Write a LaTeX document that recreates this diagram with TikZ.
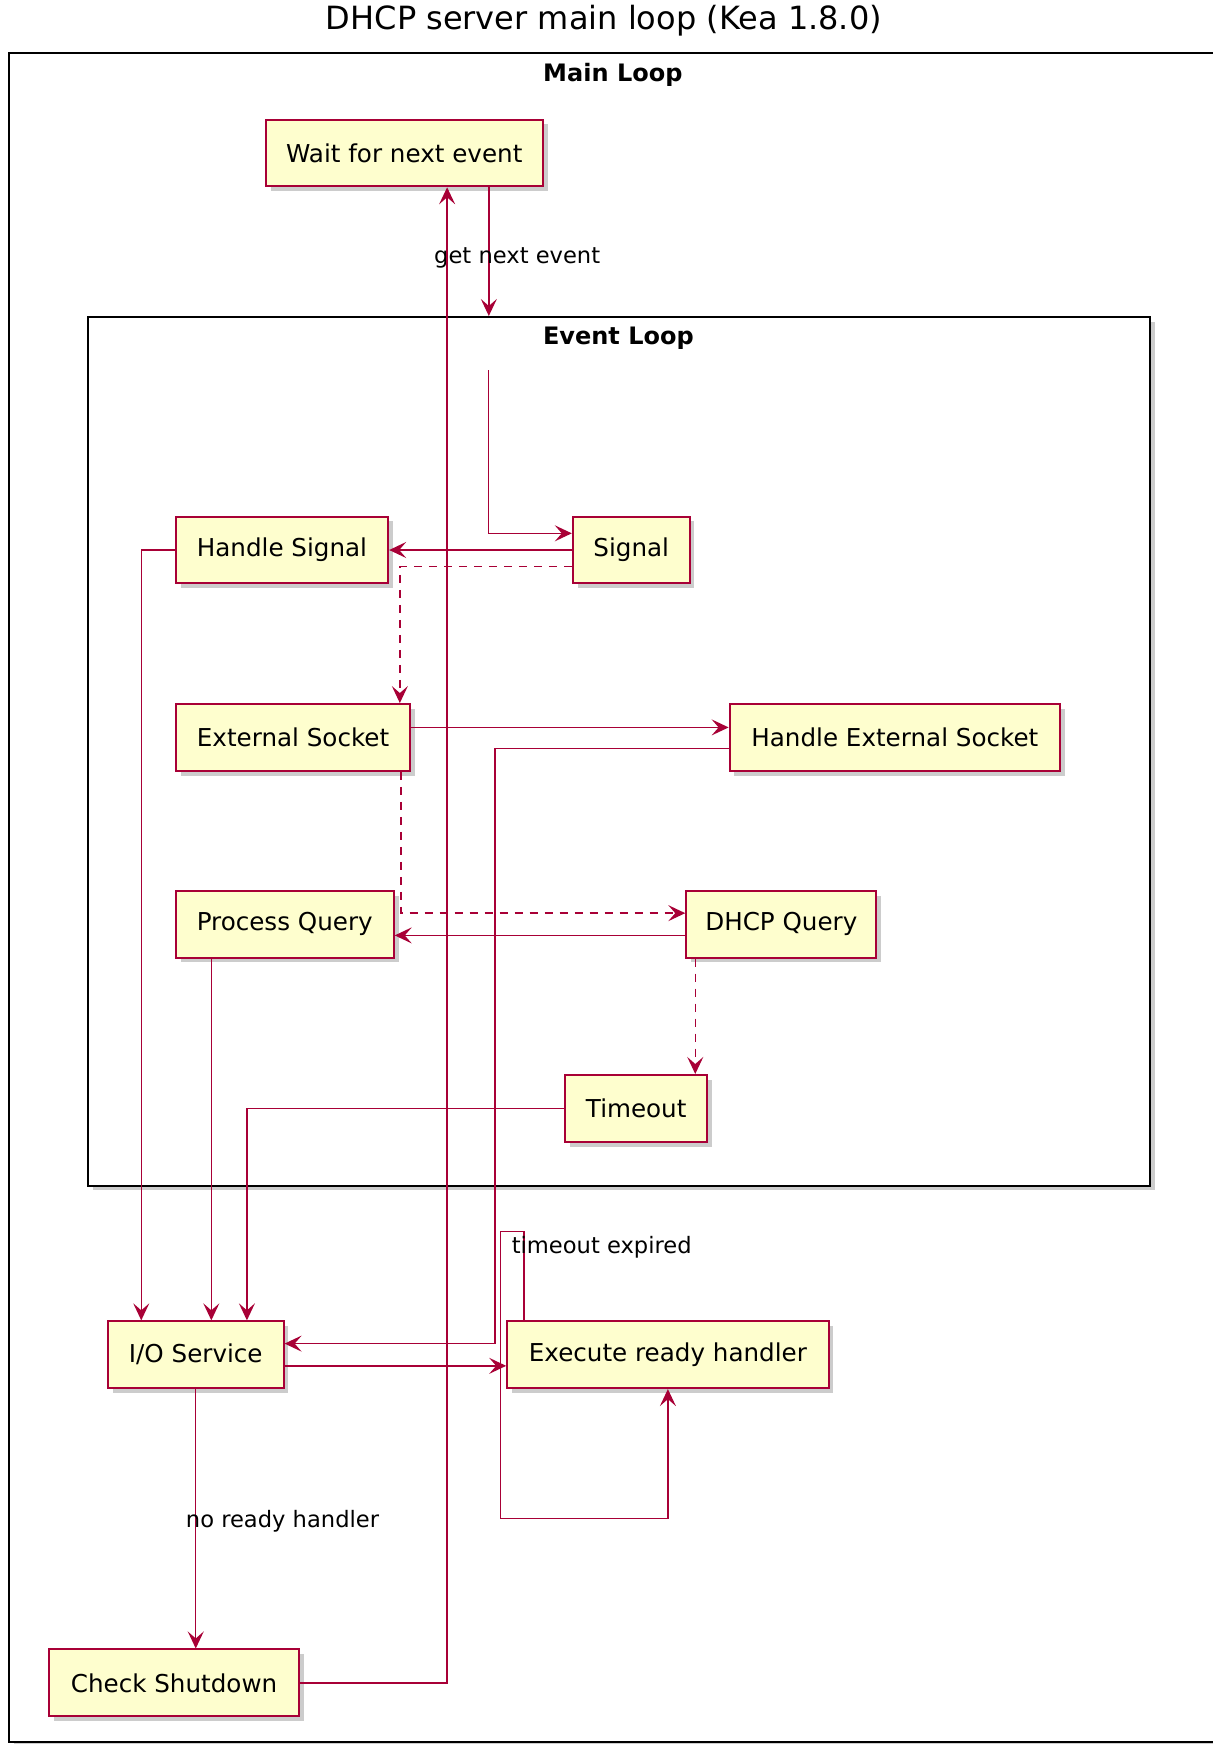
\documentclass[tikz,border=0pt]{standalone}
\usepackage{fontspec}
\setmainfont{DejaVu Sans}
\usepackage{xcolor}
\usetikzlibrary{arrows.meta,shadows}

\definecolor{umlred}{HTML}{A80036}
\definecolor{umlfill}{HTML}{FEFECE}
\newcommand{\upx}{0.556pt}

\tikzset{
  act/.style={draw=umlred, fill=umlfill, line width=1pt, minimum width=#1*\upx,
    minimum height=60*\upx, inner xsep=2pt, font=\fontsize{12.3}{14}\selectfont,
    drop shadow={shadow xshift=2.4pt, shadow yshift=-2.4pt, opacity=0.4}},
  frm/.style 2 args={draw=black, line width=1pt, fill=white, minimum width=#1*\upx,
    minimum height=#2*\upx, drop shadow={shadow xshift=2.4pt, shadow yshift=-2.4pt, opacity=0.4}},
  flow/.style={draw=umlred, line width=0.7pt, -{Stealth[length=8.5pt,width=8pt,inset=3.5pt]}},
  dsh/.style={dash pattern=on 4pt off 3.5pt},
  lbl/.style={font=\fontsize{11.3}{13}\selectfont, inner sep=0pt},
  ttl/.style={font=\bfseries\fontsize{12}{14}\selectfont}
}

\begin{document}
\begin{tikzpicture}[x=\upx, y=-\upx]
\useasboundingbox (0,0) rectangle (1090,1568);
\node[font=\fontsize{16}{19}\selectfont] (title) at (543,19) {DHCP server main loop (Kea 1.8.0)};
\node[frm={1092}{1518}] (mainloop) at (554,807) {};
\node[ttl] (mainlbl) at (551,67) {Main Loop};
\node[frm={955}{781}] (evloop) at (556.5,675.5) {};
\node[ttl] (evlbl) at (556,304) {Event Loop};
\coordinate (evstart) at (439,333);

\node[act=249] (wait) at (363.5,137.5) {Wait for next event};
\node[act=105] (sig) at (567.5,494.5) {Signal};
\node[act=191] (hsig) at (253.5,494.5) {Handle Signal};
\node[act=211] (ext) at (263.5,663) {External Socket};
\node[act=297] (hes) at (804.5,663) {Handle External Socket};
\node[act=196] (pq) at (256,831) {Process Query};
\node[act=171] (dq) at (702.5,831) {DHCP Query};
\node[act=128] (tmo) at (572,996.5) {Timeout};
\node[act=158] (io) at (176,1218) {I/O Service};
\node[act=289] (exe) at (600.5,1218) {Execute ready handler};
\node[act=225] (cs) at (156.5,1513) {Check Shutdown};

\draw[flow] ([xshift=76*\upx]wait.south) coordinate (g) -- (g |- evloop.north)
  node[lbl] at (465,232) {get next event};
\draw[flow] (evstart) |- ([yshift=15*\upx]sig.west);
\draw[flow] (sig.west) -- (hsig.east);
\draw[flow, dsh] ([yshift=-15*\upx]sig.west) -| ([xshift=96*\upx]ext.north);
\draw[flow] ([yshift=9*\upx]ext.east) -- ([yshift=9*\upx]hes.west);
\draw[flow] ([yshift=-10*\upx]hes.west) -- ++(-210,0) |- ([yshift=10*\upx]io.east);
\draw[flow, dsh] ([xshift=97*\upx]ext.south) |- ([yshift=10*\upx]dq.west);
\draw[flow] ([yshift=-10*\upx]dq.west) -- ([yshift=-10*\upx]pq.east);
\draw[flow, dsh] ([xshift=9*\upx]dq.south west) coordinate (d) -- (d |- tmo.north);
\draw[flow] (tmo.west) -| ([xshift=46*\upx]io.north);
\draw[flow] (hsig.west) -| ([xshift=-49*\upx]io.north);
\draw[flow] ([xshift=-66*\upx]pq.south) coordinate (p) -- (p |- io.north);
\draw[flow] ([yshift=-10*\upx]io.east) -- ([yshift=-10*\upx]exe.west);
\draw[flow] ([xshift=16*\upx]exe.north west) -- ++(0,-80) -- ++(-21,0) -- ++(0,258) -| (exe.south)
  node[lbl] at (541,1121) {timeout expired};
\draw[flow] (io.south) -- (io.south |- cs.north)
  node[lbl] at (254,1368) {no ready handler};
\draw[flow] (cs.east) -| ([xshift=38.5*\upx]wait.south);
\end{tikzpicture}
\end{document}
